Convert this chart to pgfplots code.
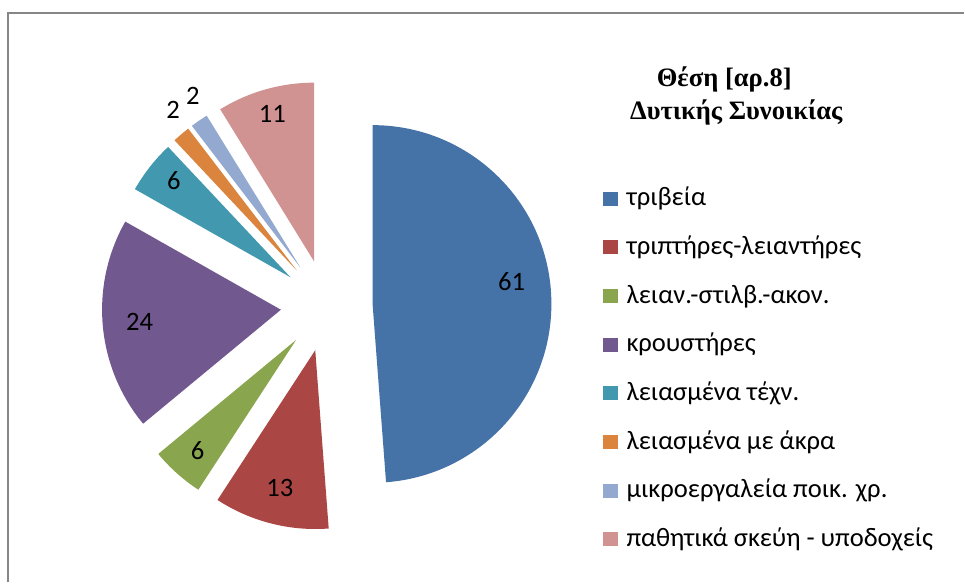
\documentclass[border=0pt]{standalone}
\usepackage{pgfplots}
\pgfplotsset{compat=1.18}
\usepackage{pgfplotstable}
\usepackage{fontspec}
\setmainfont{Carlito}
\newfontfamily\titlefont{Liberation Serif}[BoldFont={Liberation Serif Bold}]
\definecolor{pie0}{HTML}{4572A7}
\definecolor{pie1}{HTML}{AA4643}
\definecolor{pie2}{HTML}{89A54E}
\definecolor{pie3}{HTML}{71588F}
\definecolor{pie4}{HTML}{4198AF}
\definecolor{pie5}{HTML}{DB843D}
\definecolor{pie6}{HTML}{93A9CF}
\definecolor{pie7}{HTML}{D19392}
\definecolor{frame}{HTML}{868686}
% value, label radius, label angle shift
\pgfplotstableread{
val lrad lshift
61 141 7
13 142 0
6 148 0
24 142 0
6 152 -1.6
2 203 -2.7
2 203 -2.5
11 153 0
}\piedata
\newcommand\lblfont{\fontsize{26.6}{30}\selectfont}
\newcommand\ttlfont{\titlefont\bfseries\fontsize{26.6}{30}\selectfont}
\def\piecmds{}
\def\pcum{0}
\pgfplotsforeachungrouped \pidx in {0,...,7}{%
  \pgfplotstablegetelem{\pidx}{val}\of\piedata \edef\pval{\pgfplotsretval}%
  \pgfplotstablegetelem{\pidx}{lrad}\of\piedata \edef\plr{\pgfplotsretval}%
  \pgfplotstablegetelem{\pidx}{lshift}\of\piedata \edef\psh{\pgfplotsretval}%
  \pgfmathsetmacro\pA{90-\pcum*2.88}%
  \pgfmathsetmacro\pB{90-(\pcum+\pval)*2.88}%
  \pgfmathsetmacro\pM{(\pA+\pB)/2}%
  \pgfmathsetmacro\pcx{327+46*cos(\pM)}%
  \pgfmathsetmacro\pcy{277+46*sin(\pM)}%
  \pgfmathsetmacro\plx{\pcx+\plr*cos(\pM+\psh)}%
  \pgfmathsetmacro\ply{\pcy+\plr*sin(\pM+\psh)}%
  \pgfmathtruncatemacro\pvi{\pval}%
  \xdef\piecmds{\unexpanded\expandafter{\piecmds}%
    \noexpand\fill[pie\pidx] (axis cs:\pcx,\pcy) -- ++(\pA:179pt) arc[start angle=\pA, end angle=\pB, radius=179pt] -- cycle;%
    \noexpand\node[font=\noexpand\lblfont, inner sep=0pt] at (axis cs:\plx,\ply) {\pvi};}%
  \pgfmathsetmacro\pcum{\pcum+\pval}%
}
\begin{document}
\begin{tikzpicture}
\begin{axis}[x=1pt,y=1pt,xmin=0,xmax=965,ymin=0,ymax=583,hide axis,clip=false]
\path (axis cs:0,0) rectangle (axis cs:965,583);
\draw[frame, line width=2pt] (axis cs:8.5,0) -- (axis cs:8.5,569.5) -- (axis cs:965,569.5);
\piecmds
% title
\node[font=\ttlfont] at (axis cs:725,503) {Θέση [αρ.8]};
\node[font=\ttlfont] at (axis cs:737,470) {Δυτικής Συνοικίας};
% legend
\fill[pie0] (axis cs:604,377.0) rectangle (axis cs:619,391.0);
\node[font=\lblfont, anchor=base west, inner sep=0pt] at (axis cs:627,377.0) {τριβεία};
\fill[pie1] (axis cs:604,328.3) rectangle (axis cs:619,342.3);
\node[font=\lblfont, anchor=base west, inner sep=0pt] at (axis cs:627,328.3) {τριπτήρες-λειαντήρες};
\fill[pie2] (axis cs:604,279.6) rectangle (axis cs:619,293.6);
\node[font=\lblfont, anchor=base west, inner sep=0pt] at (axis cs:627,279.6) {λειαν.-στιλβ.-ακον.};
\fill[pie3] (axis cs:604,230.9) rectangle (axis cs:619,244.9);
\node[font=\lblfont, anchor=base west, inner sep=0pt] at (axis cs:627,230.9) {κρουστήρες};
\fill[pie4] (axis cs:604,182.2) rectangle (axis cs:619,196.2);
\node[font=\lblfont, anchor=base west, inner sep=0pt] at (axis cs:627,182.2) {λειασμένα τέχν.};
\fill[pie5] (axis cs:604,133.5) rectangle (axis cs:619,147.5);
\node[font=\lblfont, anchor=base west, inner sep=0pt] at (axis cs:627,133.5) {λειασμένα με άκρα};
\fill[pie6] (axis cs:604,84.8) rectangle (axis cs:619,98.8);
\node[font=\lblfont, anchor=base west, inner sep=0pt] at (axis cs:627,84.8) {μικροεργαλεία ποικ. χρ.};
\fill[pie7] (axis cs:604,36.1) rectangle (axis cs:619,50.1);
\node[font=\lblfont, anchor=base west, inner sep=0pt] at (axis cs:627,36.1) {παθητικά σκεύη - υποδοχείς};
\end{axis}
\end{tikzpicture}
\end{document}
